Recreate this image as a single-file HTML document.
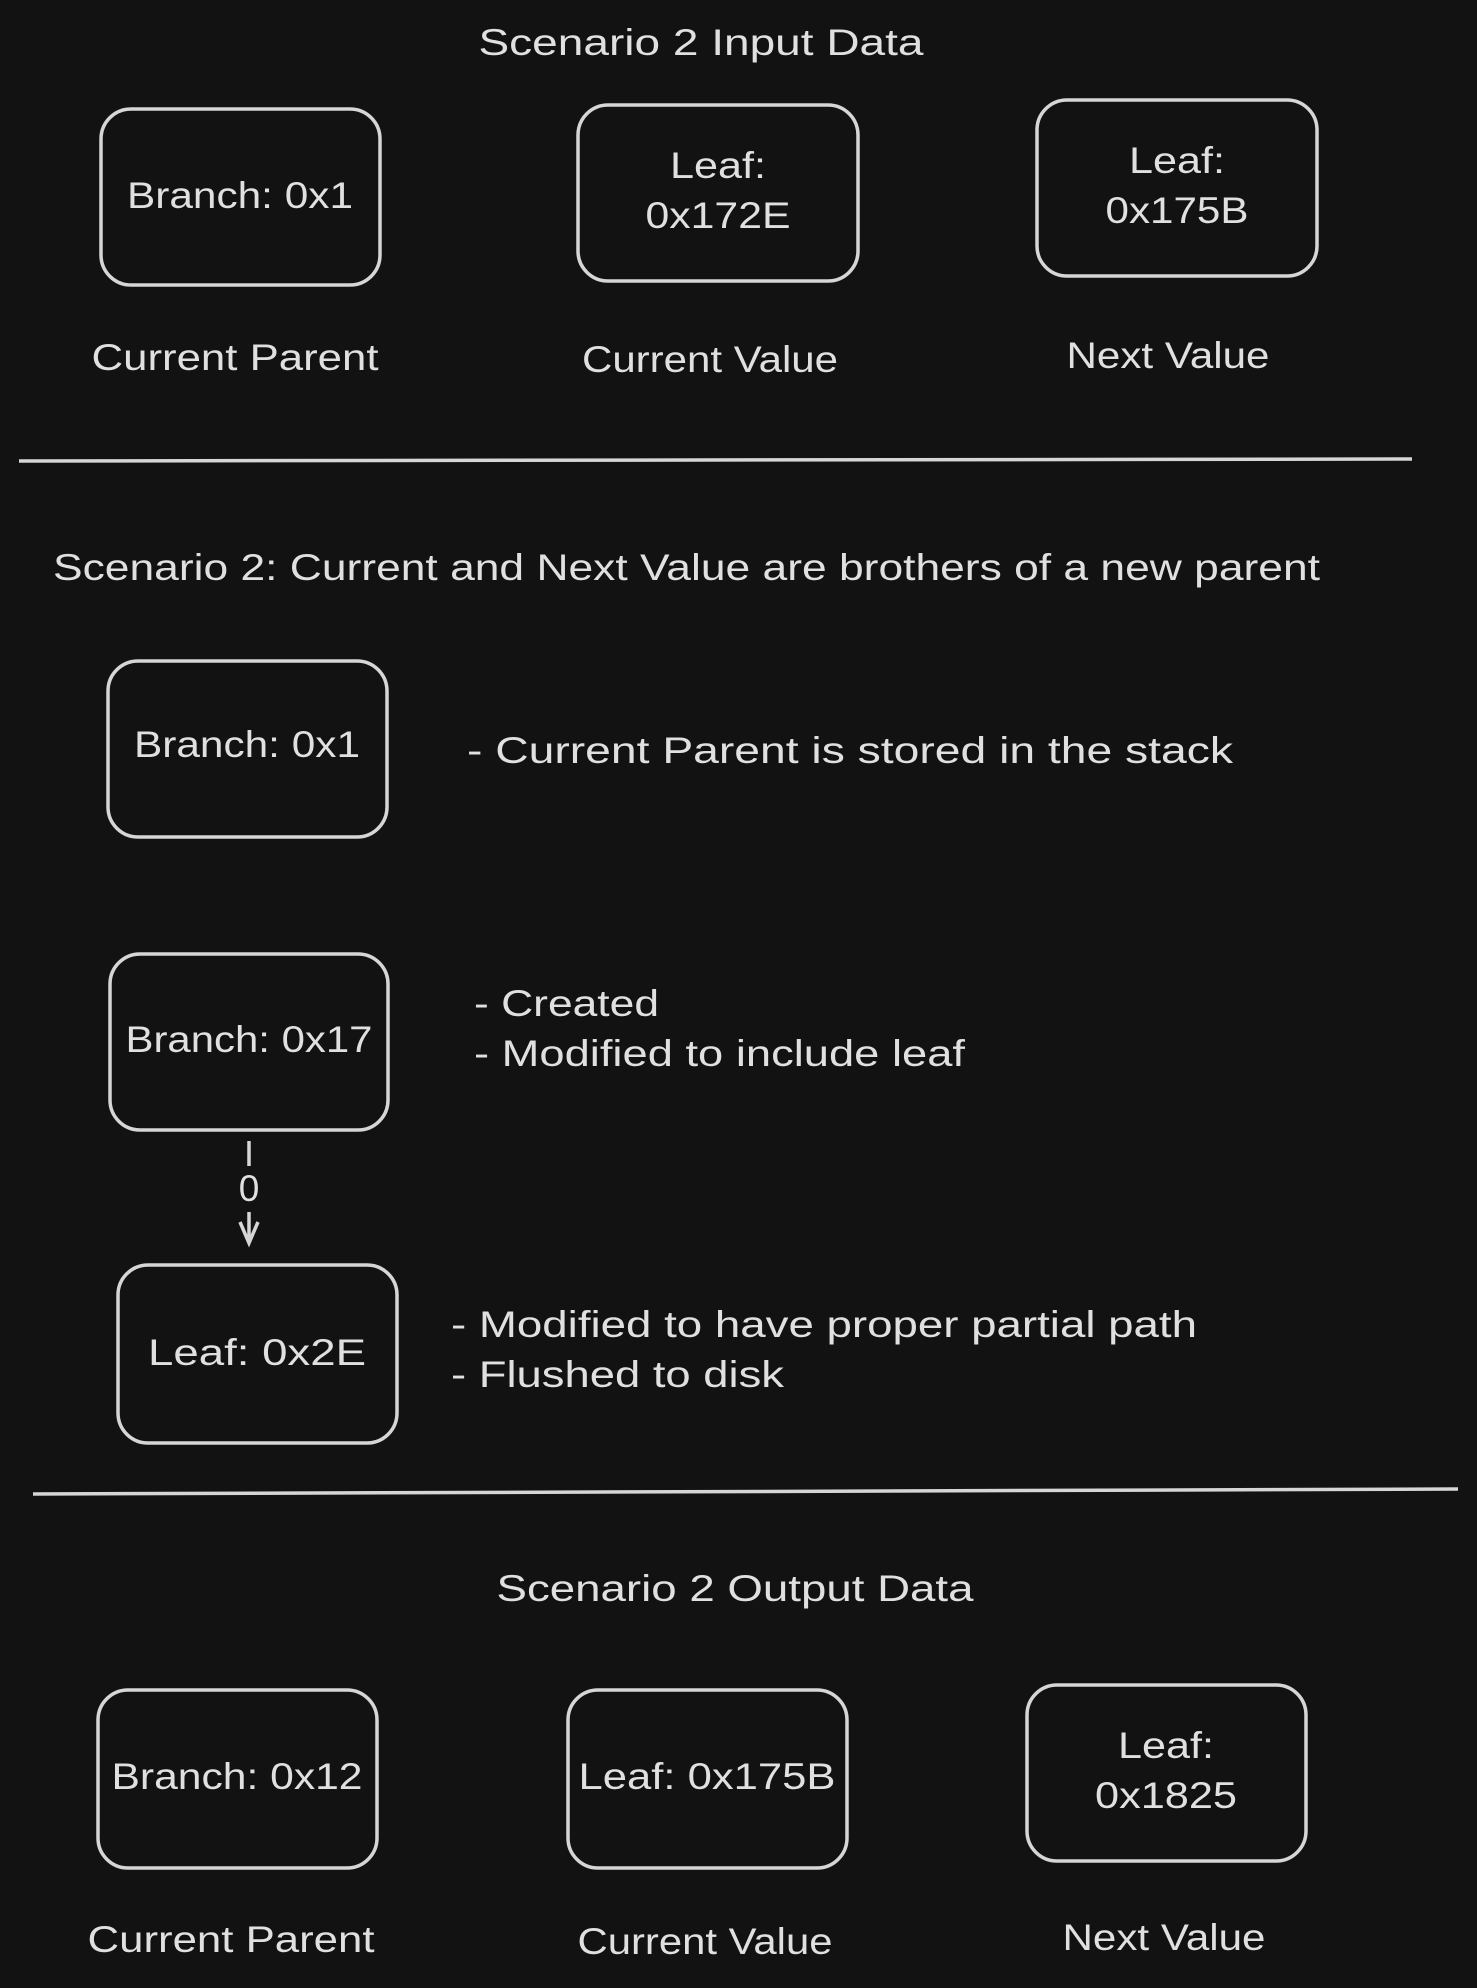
<!DOCTYPE html>
<html><head><meta charset="utf-8"><style>
html,body{margin:0;padding:0;background:#121212;}
svg{display:block}
text{font-family:"Liberation Sans",sans-serif;fill:#e0e0e0;font-size:37px;}
.b{fill:none;stroke:#d6d6d6;stroke-width:3.5;}
</style></head><body>
<svg width="1477" height="1988" viewBox="0 0 1477 1988" xmlns="http://www.w3.org/2000/svg">
<rect width="1477" height="1988" fill="#121212"/>
<g lengthAdjust="spacingAndGlyphs">
<text x="701" y="55" text-anchor="middle" textLength="445" lengthAdjust="spacingAndGlyphs">Scenario 2 Input Data</text>
<rect class="b" x="101" y="109" width="279" height="176" rx="30"/>
<text x="240" y="208" text-anchor="middle" textLength="226" lengthAdjust="spacingAndGlyphs">Branch: 0x1</text>
<rect class="b" x="578" y="105" width="280" height="176" rx="30"/>
<text x="718" y="178" text-anchor="middle" textLength="96" lengthAdjust="spacingAndGlyphs">Leaf:</text>
<text x="718" y="228" text-anchor="middle" textLength="145" lengthAdjust="spacingAndGlyphs">0x172E</text>
<rect class="b" x="1037" y="100" width="280" height="176" rx="30"/>
<text x="1177" y="173" text-anchor="middle" textLength="96" lengthAdjust="spacingAndGlyphs">Leaf:</text>
<text x="1177" y="223" text-anchor="middle" textLength="143" lengthAdjust="spacingAndGlyphs">0x175B</text>
<text x="235" y="370" text-anchor="middle" textLength="287" lengthAdjust="spacingAndGlyphs">Current Parent</text>
<text x="710" y="372" text-anchor="middle" textLength="256" lengthAdjust="spacingAndGlyphs">Current Value</text>
<text x="1168" y="368" text-anchor="middle" textLength="203" lengthAdjust="spacingAndGlyphs">Next Value</text>
<line class="b" x1="19" y1="461" x2="1412" y2="459"/>
<text x="53" y="580" textLength="1267" lengthAdjust="spacingAndGlyphs">Scenario 2: Current and Next Value are brothers of a new parent</text>
<rect class="b" x="108" y="661" width="279" height="176" rx="30"/>
<text x="247" y="757" text-anchor="middle" textLength="226" lengthAdjust="spacingAndGlyphs">Branch: 0x1</text>
<text x="467" y="763" textLength="766" lengthAdjust="spacingAndGlyphs">- Current Parent is stored in the stack</text>
<rect class="b" x="110" y="954" width="278" height="176" rx="30"/>
<text x="249" y="1052" text-anchor="middle" textLength="247" lengthAdjust="spacingAndGlyphs">Branch: 0x17</text>
<text x="474" y="1016" textLength="185" lengthAdjust="spacingAndGlyphs">- Created</text>
<text x="474" y="1066" textLength="491" lengthAdjust="spacingAndGlyphs">- Modified to include leaf</text>
<line class="b" x1="249" y1="1141" x2="249" y2="1166" stroke-width="4"/>
<text x="249" y="1201" text-anchor="middle" font-size="28">0</text>
<line class="b" x1="249" y1="1212" x2="249" y2="1243"/>
<polyline class="b" points="240,1222 249,1243 258,1222"/>
<rect class="b" x="118" y="1265" width="279" height="178" rx="30"/>
<text x="257" y="1365" text-anchor="middle" textLength="218" lengthAdjust="spacingAndGlyphs">Leaf: 0x2E</text>
<text x="451" y="1337" textLength="746" lengthAdjust="spacingAndGlyphs">- Modified to have proper partial path</text>
<text x="451" y="1387" textLength="333" lengthAdjust="spacingAndGlyphs">- Flushed to disk</text>
<line class="b" x1="33" y1="1494" x2="1458" y2="1489"/>
<text x="735" y="1601" text-anchor="middle" textLength="477" lengthAdjust="spacingAndGlyphs">Scenario 2 Output Data</text>
<rect class="b" x="98" y="1690" width="279" height="178" rx="30"/>
<text x="237" y="1789" text-anchor="middle" textLength="251" lengthAdjust="spacingAndGlyphs">Branch: 0x12</text>
<rect class="b" x="568" y="1690" width="279" height="178" rx="30"/>
<text x="707" y="1789" text-anchor="middle" textLength="257" lengthAdjust="spacingAndGlyphs">Leaf: 0x175B</text>
<rect class="b" x="1027" y="1685" width="279" height="176" rx="30"/>
<text x="1166" y="1758" text-anchor="middle" textLength="96" lengthAdjust="spacingAndGlyphs">Leaf:</text>
<text x="1166" y="1808" text-anchor="middle" textLength="142" lengthAdjust="spacingAndGlyphs">0x1825</text>
<text x="231" y="1952" text-anchor="middle" textLength="287" lengthAdjust="spacingAndGlyphs">Current Parent</text>
<text x="705" y="1954" text-anchor="middle" textLength="255" lengthAdjust="spacingAndGlyphs">Current Value</text>
<text x="1164" y="1950" text-anchor="middle" textLength="203" lengthAdjust="spacingAndGlyphs">Next Value</text>
</g>
</svg>
</body></html>
